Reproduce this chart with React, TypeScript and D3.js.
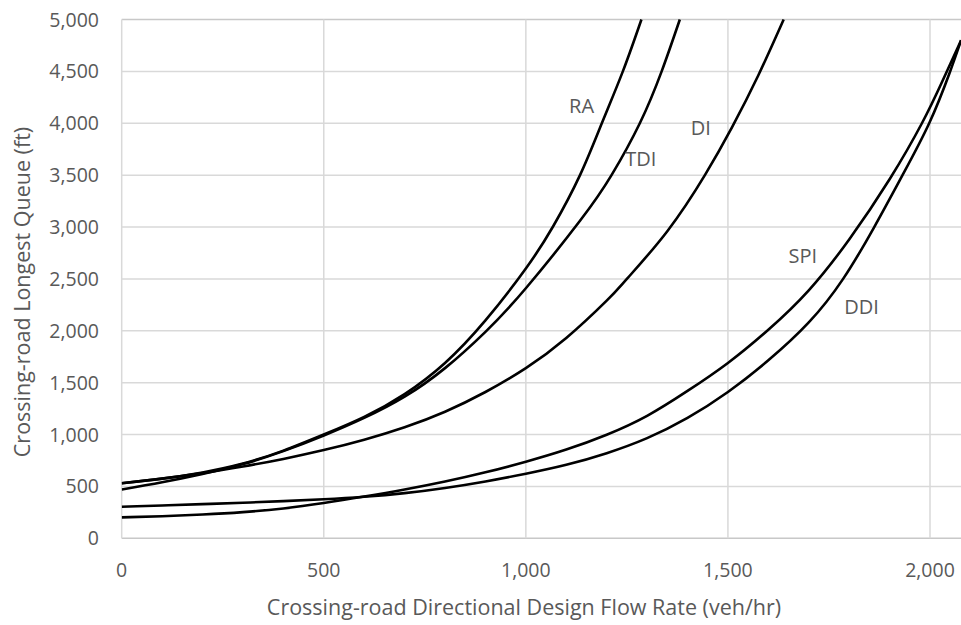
import React from "react";
import * as d3 from "d3";

// ---------- data ----------
const xTicks = [0, 500, 1000, 1500, 2000];
const yTicks = [0, 500, 1000, 1500, 2000, 2500, 3000, 3500, 4000, 4500, 5000];

const raFlow = [0, 100, 200, 300, 400, 500, 600, 700, 800, 900, 1000, 1068, 1134, 1188, 1240, 1286];
const raQueue = [530, 575, 635, 720, 845, 1000, 1170, 1390, 1690, 2100, 2600, 3010, 3500, 4000, 4500, 5000];

const tdiFlow = [0, 100, 200, 300, 400, 500, 600, 700, 800, 900, 1000, 1134, 1212, 1282, 1336, 1381];
const tdiQueue = [470, 540, 620, 715, 840, 990, 1160, 1365, 1640, 1990, 2410, 3060, 3500, 4000, 4500, 5000];

const diFlow = [0, 100, 200, 300, 400, 500, 600, 700, 800, 900, 1000, 1100, 1200, 1250, 1350, 1443, 1510, 1575, 1638];
const diQueue = [530, 575, 628, 692, 765, 850, 950, 1070, 1220, 1410, 1640, 1930, 2290, 2500, 2960, 3500, 3960, 4460, 5000];

const spiFlow = [0, 100, 200, 300, 400, 500, 600, 700, 800, 900, 1000, 1100, 1200, 1300, 1400, 1500, 1600, 1700, 1800, 1900, 1980, 2030, 2077];
const spiQueue = [202, 213, 229, 252, 288, 340, 402, 470, 547, 636, 738, 855, 998, 1180, 1420, 1690, 2010, 2390, 2880, 3460, 4000, 4400, 4800];

const ddiFlow = [0, 100, 200, 300, 400, 500, 600, 700, 800, 900, 1000, 1100, 1200, 1300, 1400, 1500, 1600, 1700, 1785, 1862, 1932, 1998, 2048, 2077];
const ddiQueue = [304, 316, 329, 343, 358, 376, 400, 435, 485, 548, 622, 708, 820, 965, 1160, 1410, 1715, 2080, 2500, 3000, 3500, 4000, 4480, 4800];

const seriesNames = ["RA", "TDI", "DI", "SPI", "DDI"];
const seriesFlows = [raFlow, tdiFlow, diFlow, spiFlow, ddiFlow];
const seriesQueues = [raQueue, tdiQueue, diQueue, spiQueue, ddiQueue];
// label anchor (data coords: flow, queue)
const labelFlow = [1107, 1246, 1408, 1650, 1788];
const labelQueue = [4095, 3590, 3890, 2650, 2160];

const xTitle = "Crossing-road Directional Design Flow Rate (veh/hr)";
const yTitle = "Crossing-road Longest Queue (ft)";

// ---------- layout ----------
const W = 961;
const H = 625;
const FONT = "'Open Sans', 'Noto Sans', sans-serif";
const TEXT = "#595959";
const GRID = "#d9d9d9";

export default function App() {
  const x = d3.scaleLinear().domain([0, 2000]).range([121.7, 930]);
  const y = d3.scaleLinear().domain([0, 5000]).range([538.3, 19.5]);
  const fmt = d3.format(",");
  const line = d3
    .line<[number, number]>()
    .x((d) => x(d[0]))
    .y((d) => y(d[1]))
    .curve(d3.curveNatural);

  const plotRight = W + 10;

  return (
    <svg
      width={W}
      height={H}
      style={{ position: "absolute", left: 0, top: 0, background: "#fff" }}
      fontFamily={FONT}
    >
      <defs>
        <clipPath id="plot">
          <rect x={x(0)} y={y(5000) - 2} width={plotRight - x(0)} height={y(0) - y(5000) + 4} />
        </clipPath>
      </defs>
      {/* gridlines */}
      {yTicks.map((t) => (
        <line
          key={"gy" + t}
          x1={x(0)}
          x2={plotRight}
          y1={y(t)}
          y2={y(t)}
          stroke={t === 0 || t === 5000 ? "#c8c8c8" : GRID}
          strokeWidth={1.5}
        />
      ))}
      {xTicks.map((t) => (
        <line
          key={"gx" + t}
          x1={x(t)}
          x2={x(t)}
          y1={y(5000)}
          y2={y(0)}
          stroke={GRID}
          strokeWidth={1.5}
        />
      ))}
      {/* tick labels */}
      {yTicks.map((t) => (
        <text
          key={"ly" + t}
          x={99}
          y={y(t)}
          dy="0.36em"
          textAnchor="end"
          fontSize={19.5}
          fill={TEXT}
        >
          {fmt(t)}
        </text>
      ))}
      {xTicks.map((t) => (
        <text
          key={"lx" + t}
          x={x(t)}
          y={577}
          textAnchor="middle"
          fontSize={19.5}
          fill={TEXT}
        >
          {fmt(t)}
        </text>
      ))}
      {/* series */}
      <g clipPath="url(#plot)">
        {seriesNames.map((name, i) => (
          <path
            key={name}
            d={line(seriesFlows[i].map((f, j) => [f, seriesQueues[i][j]] as [number, number])) || ""}
            fill="none"
            stroke="#000"
            strokeWidth={2.6}
            strokeLinejoin="round"
          />
        ))}
      </g>
      {/* series labels */}
      {seriesNames.map((name, i) => (
        <text
          key={"sl" + name}
          x={x(labelFlow[i])}
          y={y(labelQueue[i])}
          fontSize={20}
          fill={TEXT}
        >
          {name}
        </text>
      ))}
      {/* axis titles */}
      <text x={524} y={615} textAnchor="middle" fontSize={21.5} fill={TEXT}>
        {xTitle}
      </text>
      <text
        transform={`translate(30,292) rotate(-90)`}
        textAnchor="middle"
        fontSize={21.5}
        fill={TEXT}
      >
        {yTitle}
      </text>
    </svg>
  );
}
